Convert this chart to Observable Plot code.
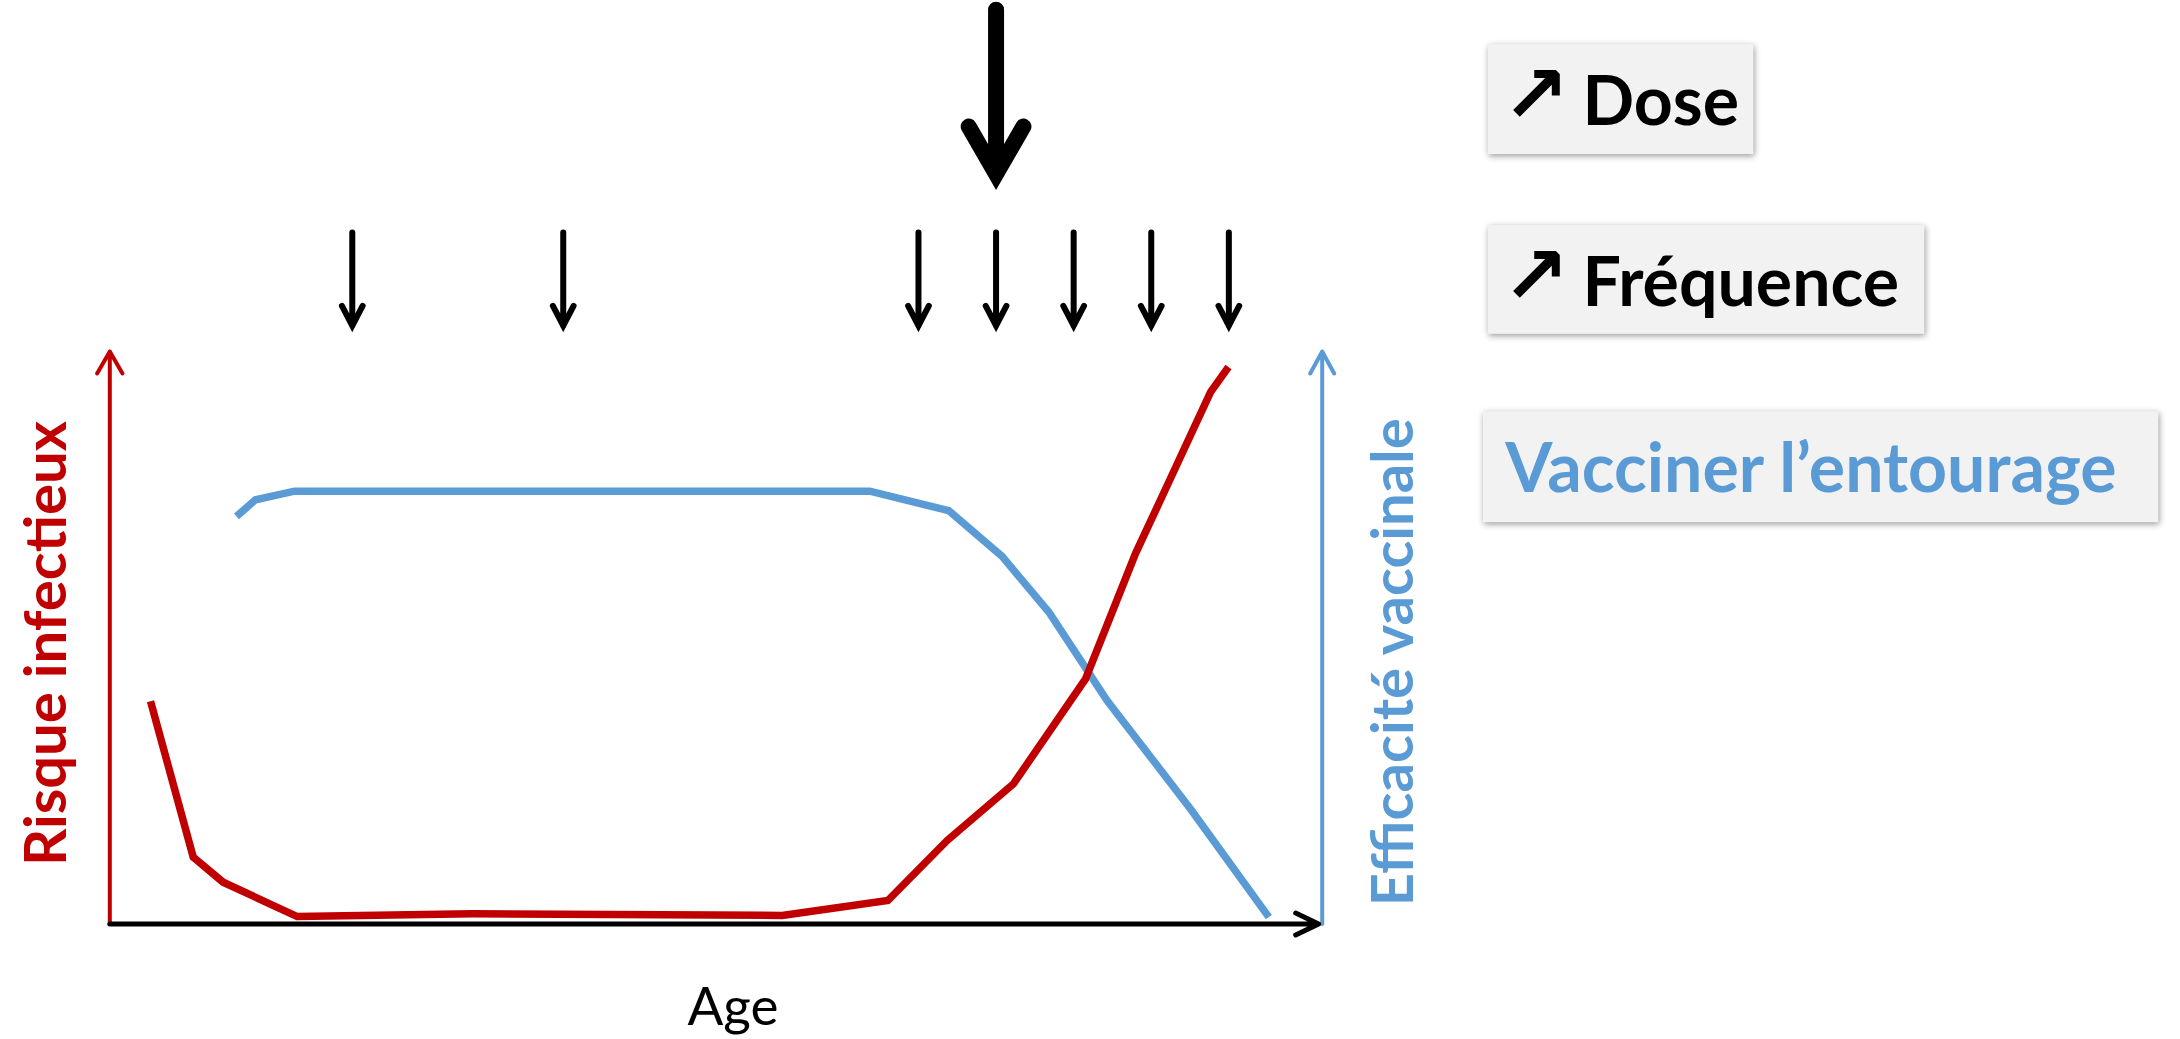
<!DOCTYPE html>
<html><head><meta charset="utf-8">
<script src="https://cdn.jsdelivr.net/npm/d3@7"></script>
<script src="https://cdn.jsdelivr.net/npm/@observablehq/plot@0.6"></script>
<style>html,body{margin:0;padding:0;background:#fff;}#chart{width:2180px;height:1039px;overflow:hidden}</style>
</head><body><div id="chart"></div>
<script>
// Risque infectieux (red) by age
const riskAge   = [3.36, 6.88, 9.35, 15.46, 29.9, 55.46, 64.17, 69.07, 74.54, 80.48, 84.6, 87.35, 90.79, 92.27];
const riskValue = [38.9, 11.7, 7.3, 1.3, 1.8, 1.5, 4.1, 14.6, 24.5, 42.8, 64.7, 77.2, 92.9, 97.3];
// Efficacité vaccinale (blue) by age
const effAge   = [10.45, 12.02, 15.23, 62.69, 69.2, 73.6, 77.45, 82.27, 89.14, 95.6];
const effValue = [71.2, 74.1, 75.6, 75.6, 72.2, 64.2, 54.5, 39.0, 20.1, 1.2];
// vaccination ages (small arrows) and higher-dose age (big arrow)
const doseAges = [20.0, 37.4, 66.7, 73.1, 79.5, 85.9, 92.3];
const bigDoseAge = [73.1];
// texts
const yTitle = "Risque infectieux";
const y2Title = "Efficacité vaccinale";
const xTitle = "Age";
const boxWords = ["Dose", "Fréquence", "Vacciner l’entourage"];
const boxPrefix = ["↗", "↗", ""];

const RED = "#c00000", BLUE = "#5b9bd5";

const risk = riskAge.map((a, i) => ({age: a, v: riskValue[i]}));
const eff = effAge.map((a, i) => ({age: a, v: effValue[i]}));

// annotation layout (in scale units)
const boxes = [
  {x1: 113.7, x2: 135.6, y1: 134.4, y2: 153.6, tx: 121.47, ty: 139.6, ax: 117.6, ay: 144.6, color: "#000"},
  {x1: 113.7, x2: 149.7, y1: 103.0, y2: 122.0, tx: 121.47, ty: 108.0, ax: 117.6, ay: 113.0, color: "#000"},
  {x1: 113.3, x2: 169.0, y1: 70.1, y2: 89.5, tx: 115.1, ty: 75.5, ax: 0, ay: 0, color: BLUE}
].map((b, i) => ({...b, word: boxWords[i], prefix: boxPrefix[i]}));

const chart = Plot.plot({
  width: 2180,
  height: 1039,
  margin: 0,
  x: {domain: [0, 100], range: [109.3, 1321.7], axis: null},
  y: {domain: [0, 100], range: [923.5, 351], axis: null},
  style: {background: "#fff", fontFamily: "Lato, 'DejaVu Sans', sans-serif", overflow: "visible"},
  marks: [
    // boxes
    Plot.rect(boxes, {x1: "x1", x2: "x2", y1: "y1", y2: "y2", fill: "#f2f2f2",
      imageFilter: "drop-shadow(1px 2px 3px rgba(0,0,0,0.4))"}),
    Plot.text(boxes.filter(d => d.prefix), {x: "ax", y: "ay", text: "prefix", fontSize: 80, fontWeight: "bold",
      fontFamily: "'DejaVu Sans', sans-serif", fill: "#000", textAnchor: "middle", lineAnchor: "middle"}),
    Plot.text(boxes, {x: "tx", y: "ty", text: "word", fontSize: 68, fontWeight: "bold",
      fontFamily: "Lato, sans-serif", fill: "color", textAnchor: "start", lineAnchor: "bottom"}),
    // axes as arrows
    Plot.arrow([0], {x1: 0, x2: 0, y1: 0, y2: 100, stroke: RED, strokeWidth: 4,
      headLength: 9.5, headAngle: 60, strokeLinecap: "round", strokeLinejoin: "round"}),
    Plot.arrow([0], {x1: 100, x2: 100, y1: 0, y2: 100, stroke: BLUE, strokeWidth: 4,
      headLength: 9.4, headAngle: 57, strokeLinecap: "round", strokeLinejoin: "round"}),
    Plot.arrow([0], {x1: 0, x2: 99.7, y1: 0, y2: 0, stroke: "#000", strokeWidth: 5,
      headLength: 7.6, headAngle: 51, strokeLinecap: "round", strokeLinejoin: "round"}),
    // curves
    Plot.line(eff, {x: "age", y: "v", stroke: BLUE, strokeWidth: 7.5,
      strokeLinecap: "butt", strokeLinejoin: "miter", strokeMiterlimit: 4}),
    Plot.line(risk, {x: "age", y: "v", stroke: RED, strokeWidth: 7.5,
      strokeLinecap: "butt", strokeLinejoin: "miter", strokeMiterlimit: 4}),
    // vaccination arrows
    Plot.arrow(doseAges, {x1: d => d, x2: d => d, y1: 120.8, y2: 104.5, stroke: "#000", strokeWidth: 6,
      headLength: 5.6, headAngle: 55, strokeLinecap: "round", strokeLinejoin: "miter", strokeMiterlimit: 4}),
    Plot.arrow(bigDoseAge, {x1: d => d, x2: d => d, y1: 159.7, y2: 131.0, stroke: "#000", strokeWidth: 16,
      headLength: 8, headAngle: 60, strokeLinecap: "round", strokeLinejoin: "miter", strokeMiterlimit: 4}),
    // titles
    Plot.text([yTitle], {x: -3.65, y: 49.0, text: d => d, rotate: -90, fontSize: 58, fontWeight: "bold",
      fill: RED, textAnchor: "middle", lineAnchor: "bottom"}),
    Plot.text([y2Title], {x: 107.5, y: 45.7, text: d => d, rotate: -90, fontSize: 58, fontWeight: "bold",
      fill: BLUE, textAnchor: "middle", lineAnchor: "bottom"}),
    Plot.text([xTitle], {x: 51.4, y: -17.7, text: d => d, fontSize: 53, fill: "#000",
      textAnchor: "middle", lineAnchor: "bottom"})
  ]
});
document.getElementById("chart").appendChild(chart);
</script>
</body></html>
